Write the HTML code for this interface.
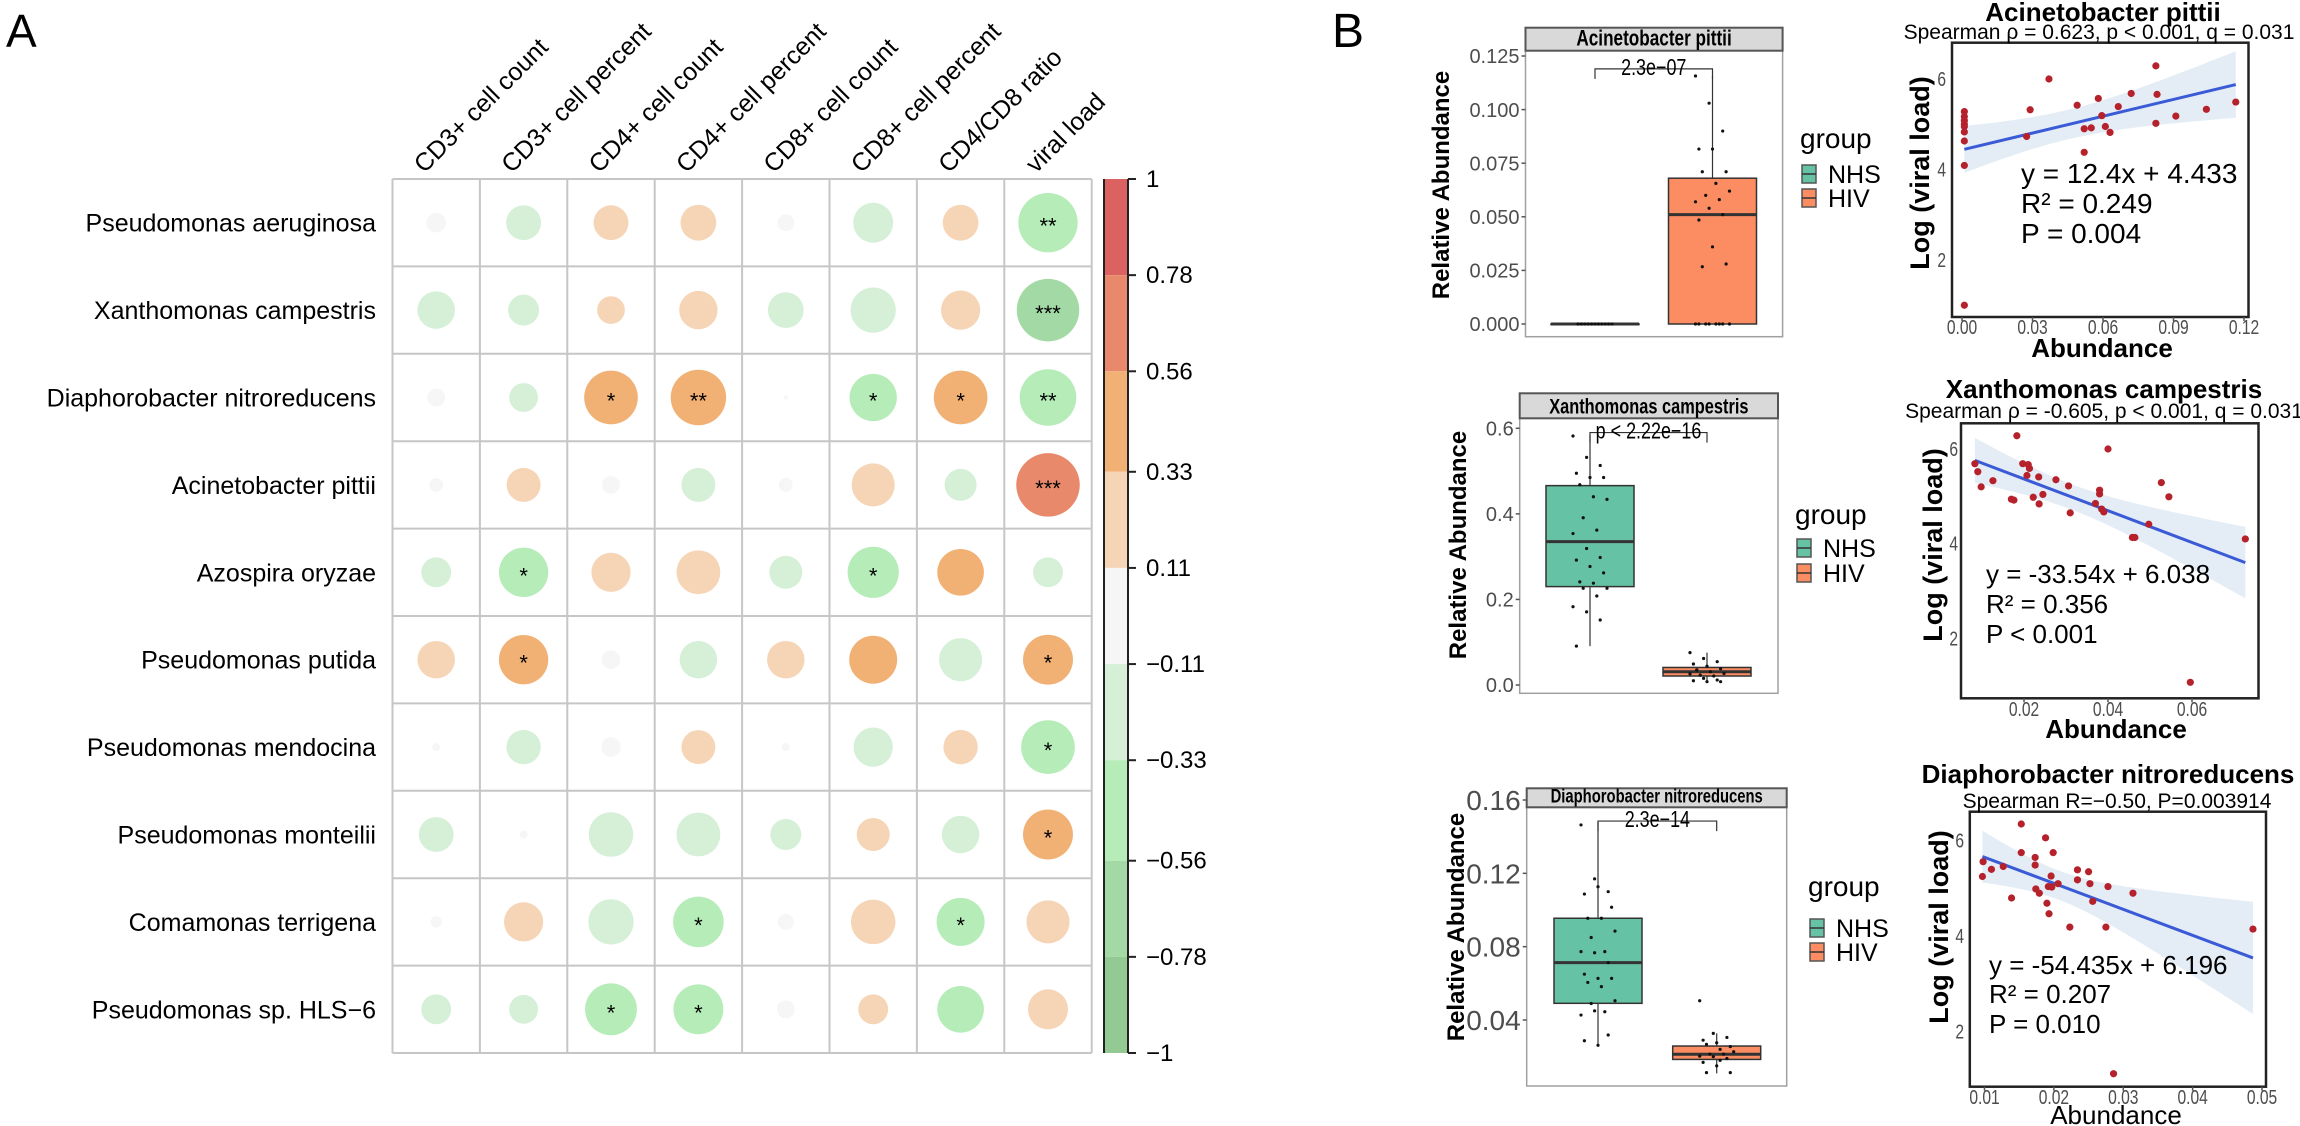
<!DOCTYPE html>
<html><head><meta charset="utf-8">
<style>
html,body{margin:0;padding:0;background:#fff;}
svg{display:block;font-family:"Liberation Sans",Arial,sans-serif;}
</style></head>
<body>
<svg id="fig" xmlns="http://www.w3.org/2000/svg" width="2300" height="1126" viewBox="0 0 2300 1126">
<rect x="0" y="0" width="2300" height="1126" fill="#fff"/>
<text x="6" y="47" font-size="46">A</text>
<text x="1332" y="47" font-size="48">B</text>
</svg>
<script>
// ---------- Panel A data ----------
const rowLabels = ["Pseudomonas aeruginosa","Xanthomonas campestris","Diaphorobacter nitroreducens","Acinetobacter pittii","Azospira oryzae","Pseudomonas putida","Pseudomonas mendocina","Pseudomonas monteilii","Comamonas terrigena","Pseudomonas sp. HLS\u22126"];
const colLabels = ["CD3+ cell count","CD3+ cell percent","CD4+ cell count","CD4+ cell percent","CD8+ cell count","CD8+ cell percent","CD4/CD8 ratio","viral load"];
const corrRow1 = [0.06,-0.19,0.19,0.2,0.045,-0.25,0.2,-0.55];
const corrRow2 = [-0.22,-0.15,0.12,0.23,-0.2,-0.32,0.24,-0.61];
const corrRow3 = [0.05,-0.13,0.45,0.48,0.003,-0.35,0.45,-0.5];
const corrRow4 = [0.03,0.18,0.05,-0.18,0.03,0.29,-0.16,0.63];
const corrRow5 = [-0.14,-0.38,0.24,0.3,-0.17,-0.41,0.34,-0.14];
const corrRow6 = [0.22,0.38,0.055,-0.22,0.22,0.36,-0.29,0.39];
const corrRow7 = [0.01,-0.185,0.06,0.18,0.01,-0.24,0.185,-0.45];
const corrRow8 = [-0.19,0.01,-0.31,-0.3,-0.15,0.17,-0.22,0.39];
const corrRow9 = [0.02,0.24,-0.32,-0.4,0.04,0.31,-0.36,0.29];
const corrRow10 = [-0.14,-0.13,-0.42,-0.39,0.05,0.14,-0.34,0.25];
const corrValues = [corrRow1,corrRow2,corrRow3,corrRow4,corrRow5,corrRow6,corrRow7,corrRow8,corrRow9,corrRow10];
const sigStars = [
 ["","","","","","","","**"],
 ["","","","","","","","***"],
 ["","","*","**","","*","*","**"],
 ["","","","","","","","***"],
 ["","*","","","","*","",""],
 ["","*","","","","","","*"],
 ["","","","","","","","*"],
 ["","","","","","","","*"],
 ["","","","*","","","*",""],
 ["","","*","*","","","",""]];
const cbTicks = [1,0.78,0.56,0.33,0.11,-0.11,-0.33,-0.56,-0.78,-1];
const cbTickLabels = ["1","0.78","0.56","0.33","0.11","\u22120.11","\u22120.33","\u22120.56","\u22120.78","\u22121"];
const cbColors = ["#dc6262","#e8896c","#f1b175","#f6d5b7","#f6f6f6","#d5f0d7","#b5ecb8","#a3d9a5","#93c993"];

// ---------- Panel B data ----------
const box1Ticks = [0,0.025,0.05,0.075,0.1,0.125];
const box1TickLabels = ["0.000","0.025","0.050","0.075","0.100","0.125"];
const box1NHSStats = [0,0,0,0,0];
const box1HIVStats = [0,0,0.051,0.068,0.1157];
const box1NHSPts = [0,0,0,0,0,0,0,0,0,0,0,0];
const box1HIVPts = [0.1157,0.103,0.09,0.0816,0.0816,0.071,0.071,0.0656,0.062,0.06,0.058,0.057,0.054,0.051,0.0485,0.036,0.028,0.0267,0,0,0,0,0,0,0,0];
const box2Ticks = [0,0.2,0.4,0.6];
const box2TickLabels = ["0.0","0.2","0.4","0.6"];
const box2NHSStats = [0.091,0.23,0.335,0.466,0.584];
const box2HIVStats = [0.0078,0.021,0.031,0.041,0.0756];
const box2NHSPts = [0.582,0.532,0.513,0.495,0.485,0.485,0.468,0.44,0.434,0.391,0.362,0.354,0.319,0.298,0.292,0.277,0.262,0.241,0.238,0.226,0.226,0.208,0.183,0.171,0.152,0.091];
const box2HIVPts = [0.0756,0.062,0.0545,0.049,0.044,0.038,0.035,0.031,0.027,0.023,0.021,0.026,0.0156,0.0117,0.01,0.0078,0.0078,0.035];
const box3Ticks = [0.04,0.08,0.12,0.16];
const box3TickLabels = ["0.04","0.08","0.12","0.16"];
const box3NHSStats = [0.0258,0.0491,0.0713,0.0955,0.148];
const box3HIVStats = [0.0109,0.0185,0.0213,0.0258,0.0327];
const box3NHSPts = [0.1464,0.117,0.11,0.1087,0.1127,0.1015,0.0955,0.0955,0.0885,0.085,0.0773,0.0773,0.0767,0.0713,0.065,0.0627,0.0627,0.0605,0.0582,0.0505,0.049,0.0445,0.0427,0.045,0.0318,0.0287,0.0262];
const box3HIVPts = [0.0505,0.0327,0.0305,0.029,0.0276,0.0255,0.0267,0.024,0.0227,0.0214,0.0214,0.0203,0.02,0.019,0.0169,0.015,0.0113,0.0113,0.018];

const sc1X = [0.001,0.001,0.001,0.001,0.001,0.001,0.001,0.001,0.001,0.0275,0.029,0.037,0.049,0.052,0.052,0.055,0.058,0.0595,0.061,0.063,0.0665,0.072,0.0825,0.083,0.0825,0.091,0.104,0.1165];
const sc1Y = [5.28,5.17,5.08,5.0,4.95,4.83,4.63,4.09,1.0,4.73,5.32,6.0,5.42,4.9,4.38,4.92,5.57,5.19,4.95,4.82,5.39,5.68,6.29,5.66,5.02,5.18,5.33,5.49];
const sc1Coef = [12.4,4.433];
const sc1XTicks = [0,0.03,0.06,0.09,0.12];
const sc1XTickLabels = ["0.00","0.03","0.06","0.09","0.12"];
const sc2X = [0.0083,0.009,0.0098,0.0126,0.017,0.0176,0.0183,0.0197,0.021,0.0213,0.0207,0.0222,0.0235,0.0236,0.0245,0.0276,0.0306,0.031,0.037,0.038,0.038,0.0385,0.039,0.04,0.0458,0.0464,0.0497,0.0527,0.0545,0.0596,0.0727];
const sc2Y = [5.69,5.52,5.2,5.33,4.94,4.92,6.28,5.69,5.67,5.59,5.44,4.98,5.41,4.84,5.04,5.35,5.22,4.65,4.85,5.13,5.05,4.73,4.67,6.0,4.13,4.13,4.41,5.29,4.99,1.07,4.1];
const sc2Coef = [-33.54,6.038];
const sc2XTicks = [0.02,0.04,0.06];
const sc2XTickLabels = ["0.02","0.04","0.06"];
const sc3X = [0.0098,0.0097,0.011,0.0127,0.0139,0.0153,0.0153,0.0173,0.0173,0.0174,0.0179,0.0188,0.019,0.0192,0.0193,0.0196,0.0197,0.0199,0.0206,0.0223,0.0234,0.0234,0.025,0.0252,0.0256,0.0275,0.0278,0.0286,0.0314,0.0487];
const sc3Y = [5.56,5.25,5.4,5.46,4.8,6.35,5.75,5.65,5.49,4.99,4.9,6.06,4.69,5.04,4.47,5.26,5.03,5.75,5.1,4.19,5.39,5.18,5.35,5.1,4.73,4.19,5.04,1.12,4.9,4.15];
const sc3Coef = [-54.435,6.196];
const sc3XTicks = [0.01,0.02,0.03,0.04,0.05];
const sc3XTickLabels = ["0.01","0.02","0.03","0.04","0.05"];
const scYTicks = [2,4,6];
const scYTickLabels = ["2","4","6"];

// ---------- helpers ----------
const NS = "http://www.w3.org/2000/svg";
const svg = document.getElementById("fig");
function mk(tag, attrs, parent) {
  const e = document.createElementNS(NS, tag);
  for (const k in attrs) e.setAttribute(k, attrs[k]);
  (parent || svg).appendChild(e);
  return e;
}
function ctext(str, x, y, size, anchor, weight, sx, parent, fill) {
  const e = mk("text", {x: 0, y: 0, "font-size": size, "text-anchor": anchor, "font-weight": weight, fill: fill || "#000",
    transform: "translate(" + x + "," + y + ") scale(" + sx + ",1)"}, parent);
  e.textContent = str;
  return e;
}
function lin(v0, p0, v1, p1) { return v => p0 + (v - v0) * (p1 - p0) / (v1 - v0); }

// ---------- Panel A ----------
const gA = mk("g", {});


const gx0 = 392.5, gy0 = 179, cell = 87.4;
const nR = rowLabels.length, nC = colLabels.length;
const colX = j => gx0 + cell * (j + 0.5);
const rowY = i => gy0 + cell * (i + 0.5);
const radius = v => 40 * Math.sqrt(Math.abs(v));
function colorOf(v) {
  for (let k = 0; k < cbColors.length; k++) { if (v >= cbTicks[k + 1]) return cbColors[k]; }
  return cbColors[cbColors.length - 1];
}
for (let i = 0; i <= nR; i++) {
  const l = mk("line", {x1: gx0, x2: gx0 + cell * nC, y1: gy0 + cell * i, y2: gy0 + cell * i, stroke: "#c6c6c6", "stroke-width": 2}, gA);
  
  
}
for (let j = 0; j <= nC; j++) {
  const l = mk("line", {x1: gx0 + cell * j, x2: gx0 + cell * j, y1: gy0, y2: gy0 + cell * nR, stroke: "#c6c6c6", "stroke-width": 2}, gA);
  
  
}
for (let i = 0; i < nR; i++) {
  const t = ctext(rowLabels[i], 376, rowY(i) + 9, 25, "end", "normal", 1, gA);
  
  
  for (let j = 0; j < nC; j++) {
    const v = corrValues[i][j];
    const c = mk("circle", {cx: colX(j), cy: rowY(i), r: radius(v), fill: colorOf(v)}, gA);
    
    
    if (sigStars[i][j]) {
      const s = ctext(sigStars[i][j], colX(j), rowY(i) + 11, 22, "middle", "normal", 1, gA);
      
      
    }
  }
}
for (let j = 0; j < nC; j++) {
  const t = mk("text", {x: 0, y: 0, "font-size": 25, transform: "translate(" + (colX(j) - 12) + ",174) rotate(-45)"}, gA);
  t.textContent = colLabels[j];
  
  
}
// colorbar
const cbY = lin(-1, gy0 + cell * nR, 1, gy0);
const gCB = mk("g", {});


for (let k = 0; k < cbColors.length; k++) {
  const r = mk("rect", {x: 1104, y: cbY(cbTicks[k]), width: 24, height: cbY(cbTicks[k + 1]) - cbY(cbTicks[k]), fill: cbColors[k]}, gCB);
  
  
}
const cbl = mk("path", {d: "M1104," + cbY(1) + "V" + cbY(-1) + "M1128," + cbY(1) + "V" + cbY(-1), stroke: "#222", "stroke-width": 2, fill: "none"}, gCB);


for (let k = 0; k < cbTicks.length; k++) {
  const tk = mk("line", {x1: 1128, x2: 1136, y1: cbY(cbTicks[k]), y2: cbY(cbTicks[k]), stroke: "#222", "stroke-width": 2}, gCB);
  
  
  const tl = ctext(cbTickLabels[k], 1146, cbY(cbTicks[k]) + 8, 24, "start", "normal", 1, gCB);
  
  
}

// ---------- Panel B: boxplots ----------
const SX = 0.78;
function drawBox(L, ticks, tickLabels, nhsStats, hivStats, nhsPts, hivPts, title, pLabel, bracketV) {
  const g = mk("g", {});
  
  
  const y = lin(L.v0, L.p0, L.v1, L.p1);
  const pr = mk("rect", {x: L.x0, y: L.ys, width: L.x1 - L.x0, height: L.yb - L.ys, fill: "#fff", stroke: "#a0a0a0", "stroke-width": 1.5}, g);
  
  
  const st = mk("rect", {x: L.x0, y: L.yt, width: L.x1 - L.x0, height: L.ys - L.yt, fill: "#d9d9d9", stroke: "#555", "stroke-width": 2}, g);
  
  
  const stt = ctext(title, (L.x0 + L.x1) / 2, L.ys - 5, L.stripFont, "middle", "bold", SX, g);
  
  
  for (let k = 0; k < ticks.length; k++) {
    const tk = mk("line", {x1: L.x0 - 4, x2: L.x0, y1: y(ticks[k]), y2: y(ticks[k]), stroke: "#555", "stroke-width": 1.5}, g);
    
    
    const tl = ctext(tickLabels[k], L.x0 - 6, y(ticks[k]) + L.tickFont * 0.36, L.tickFont, "end", "normal", 1, g, "#4d4d4d");
    
    
  }
  const groups = [[L.c1, nhsStats, nhsPts, "#66c2a5", "nhs"], [L.c2, hivStats, hivPts, "#fc8d62", "hiv"]];
  groups.forEach(([cx, s, pts, col, nm]) => {
    const w = mk("path", {d: "M" + cx + "," + y(s[0]) + "V" + y(s[1]) + "M" + cx + "," + y(s[3]) + "V" + y(s[4]), stroke: "#333", "stroke-width": 1.2}, g);
    
    
    const b = mk("rect", {x: cx - 44, y: y(s[3]), width: 88, height: Math.max(y(s[1]) - y(s[3]), 0.5), fill: col, stroke: "#333", "stroke-width": 1.5}, g);
    
    
    const md = mk("line", {x1: cx - 44, x2: cx + 44, y1: y(s[2]), y2: y(s[2]), stroke: "#333", "stroke-width": 3}, g);
    
    
    pts.forEach((v, i) => {
      const jx = ((i * 37) % 11 - 5) * 3.4;
      const p = mk("circle", {cx: cx + jx, cy: y(v), r: 1.6, fill: "#111"}, g);
      
      
    });
  });
  const br = mk("path", {d: "M" + L.c1 + "," + (y(bracketV) + 10) + "V" + y(bracketV) + "H" + L.c2 + "V" + (y(bracketV) + 10), stroke: "#333", "stroke-width": 1.2, fill: "none"}, g);
  
  
  const pl = ctext(pLabel, (L.c1 + L.c2) / 2, y(bracketV) + 6, 23, "middle", "normal", SX, g);
  
  
  const yt = mk("text", {x: 0, y: 0, "font-size": 24, "font-weight": "bold", "text-anchor": "middle", transform: "translate(" + L.ytx + "," + L.yty + ") rotate(-90)"}, g);
  yt.textContent = "Relative Abundance";
  
  
  // legend
  const lg = mk("g", {}, g);
  
  
  const gt = ctext("group", L.lx, L.lg, 28, "start", "normal", 1, lg);
  
  
  [["NHS", "#66c2a5", L.ln], ["HIV", "#fc8d62", L.lh]].forEach(([lab, col, yy]) => {
    const kr = mk("rect", {x: L.lx + 2, y: yy - 9, width: 14, height: 18, fill: col, stroke: "#555", "stroke-width": 1.5}, lg);
    
    
    const kl = mk("line", {x1: L.lx + 2, x2: L.lx + 16, y1: yy, y2: yy, stroke: "#333", "stroke-width": 1.5}, lg);
    
    
    const kt = ctext(lab, L.lx + 28, yy + 9, 25, "start", "normal", 1, lg);
    
    
  });
}
drawBox({x0: 1525.5, x1: 1782.6, yt: 27.7, ys: 50.7, yb: 336.7, v0: 0, p0: 324, v1: 0.125, p1: 56, c1: 1595, c2: 1712.5,
  stripFont: 22, tickFont: 20, ytx: 1449, yty: 185, lx: 1800, lg: 148, ln: 174, lh: 198},
  box1Ticks, box1TickLabels, box1NHSStats, box1HIVStats, box1NHSPts, box1HIVPts, "Acinetobacter pittii", "2.3e\u221207", 0.119);
drawBox({x0: 1519.7, x1: 1778, yt: 393.3, ys: 418.3, yb: 693.3, v0: 0, p0: 685, v1: 0.6, p1: 428.3, c1: 1590, c2: 1707,
  stripFont: 21, tickFont: 20, ytx: 1466, yty: 545, lx: 1795, lg: 524, ln: 548, lh: 573},
  box2Ticks, box2TickLabels, box2NHSStats, box2HIVStats, box2NHSPts, box2HIVPts, "Xanthomonas campestris", "p < 2.22e\u221216", 0.59);
drawBox({x0: 1526.7, x1: 1786.7, yt: 788.3, ys: 807.3, yb: 1086, v0: 0.16, p0: 800, v1: 0.04, p1: 1020, c1: 1598, c2: 1716.7,
  stripFont: 19, tickFont: 28, ytx: 1464, yty: 927, lx: 1808, lg: 896, ln: 928, lh: 952},
  box3Ticks, box3TickLabels, box3NHSStats, box3HIVStats, box3NHSPts, box3HIVPts, "Diaphorobacter nitroreducens", "2.3e\u221214", 0.1485);

// ---------- Panel B: scatter plots ----------
function drawScatter(L, xs, ys, coef, xTicks, xTickLabels, title, subtitle, ann) {
  const g = mk("g", {});
  
  
  const X = lin(L.xv0, L.xp0, L.xv1, L.xp1);
  const Y = lin(2, L.y2, 6, L.y6);
  const clip = mk("clipPath", {id: L.id}, g);
  mk("rect", {x: L.x0, y: L.y0, width: L.x1 - L.x0, height: L.y1 - L.y0}, clip);
  const n = xs.length;
  const mx = xs.reduce((a, b) => a + b, 0) / n;
  const sxx = xs.reduce((a, b) => a + (b - mx) * (b - mx), 0);
  const sse = xs.reduce((a, b, i) => a + Math.pow(ys[i] - (coef[0] * b + coef[1]), 2), 0);
  const se = Math.sqrt(sse / (n - 2));
  const xmin = Math.min(...xs), xmax = Math.max(...xs);
  const up = [], dn = [];
  for (let k = 0; k <= 40; k++) {
    const xv = xmin + (xmax - xmin) * k / 40;
    const h = 2.05 * se * Math.sqrt(1 / n + (xv - mx) * (xv - mx) / sxx);
    const yv = coef[0] * xv + coef[1];
    up.push(X(xv).toFixed(1) + "," + Y(yv + h).toFixed(1));
    dn.unshift(X(xv).toFixed(1) + "," + Y(yv - h).toFixed(1));
  }
  const band = mk("polygon", {points: up.concat(dn).join(" "), fill: "#dde9f4", opacity: 0.8, "clip-path": "url(#" + L.id + ")"}, g);
  
  
  const rl = mk("line", {x1: X(xmin), y1: Y(coef[0] * xmin + coef[1]), x2: X(xmax), y2: Y(coef[0] * xmax + coef[1]), stroke: "#3b5bd6", "stroke-width": 3}, g);
  
  
  xs.forEach((xv, i) => {
    const p = mk("circle", {cx: X(xv), cy: Y(ys[i]), r: 3.6, fill: "#b5222c"}, g);
    
    
  });
  const fr = mk("rect", {x: L.x0, y: L.y0, width: L.x1 - L.x0, height: L.y1 - L.y0, fill: "none", stroke: "#222", "stroke-width": 2.5}, g);
  
  
  xTicks.forEach((v, k) => {
    const tk = mk("line", {x1: X(v), x2: X(v), y1: L.y1, y2: L.y1 + 4, stroke: "#555", "stroke-width": 1.5}, g);
    
    
    const tl = ctext(xTickLabels[k], X(v), L.xtb, 20, "middle", "normal", SX, g, "#4d4d4d");
    
    
  });
  scYTicks.forEach((v, k) => {
    const tl = ctext(scYTickLabels[k], L.ytr, Y(v) + 7, 20, "end", "normal", SX, g, "#4d4d4d");
    
    
  });
  const tt = ctext(title, L.tcx, L.tb, L.titleFont, "middle", "bold", 1, g);
  
  
  const sub = ctext(subtitle, L.scx, L.sb, L.subFont, "middle", "normal", 1, g);
  
  
  ann.forEach((a, k) => {
    const at = ctext(a, L.ax, L.ab[k], L.annFont, "start", "normal", 1, g);
    
    
  });
  const xt = ctext("Abundance", L.xtcx, L.xttb, 26, "middle", L.xtw, 1, g);
  
  
  const yt = mk("text", {x: 0, y: 0, "font-size": 27, "font-weight": "bold", "text-anchor": "middle", transform: "translate(" + L.ytx + "," + L.yty + ") rotate(-90)"}, g);
  yt.textContent = "Log (viral load)";
  
  
}
drawScatter({id: "c1", x0: 1952, x1: 2248.5, y0: 42.7, y1: 317, xv0: 0, xp0: 1962, xv1: 0.12, xp1: 2244, y2: 260, y6: 79,
  xtb: 334, ytr: 1946, tcx: 2103, tb: 21, titleFont: 26, scx: 2099, sb: 39, subFont: 21, ax: 2021, ab: [183, 213, 243], annFont: 28,
  xtcx: 2102, xttb: 357, xtw: "bold", ytx: 1929, yty: 173},
  sc1X, sc1Y, sc1Coef, sc1XTicks, sc1XTickLabels, "Acinetobacter pittii", "Spearman \u03c1 = 0.623, p < 0.001, q = 0.031",
  ["y = 12.4x + 4.433", "R\u00b2 = 0.249", "P = 0.004"]);
drawScatter({id: "c2", x0: 1961, x1: 2258.5, y0: 423.3, y1: 698.3, xv0: 0.02, xp0: 2024, xv1: 0.06, xp1: 2192, y2: 638.3, y6: 449,
  xtb: 716, ytr: 1958, tcx: 2104, tb: 398, titleFont: 26, scx: 2104, sb: 418, subFont: 21, ax: 1986, ab: [583, 613, 643], annFont: 26,
  xtcx: 2116, xttb: 738, xtw: "bold", ytx: 1942, yty: 545},
  sc2X, sc2Y, sc2Coef, sc2XTicks, sc2XTickLabels, "Xanthomonas campestris", "Spearman \u03c1 = -0.605, p < 0.001, q = 0.031",
  ["y = -33.54x + 6.038", "R\u00b2 = 0.356", "P < 0.001"]);
drawScatter({id: "c3", x0: 1969.8, x1: 2266, y0: 811.7, y1: 1086.7, xv0: 0.01, xp0: 1984.5, xv1: 0.05, xp1: 2262, y2: 1031.7, y6: 840.7,
  xtb: 1104, ytr: 1964, tcx: 2108, tb: 783, titleFont: 26, scx: 2117, sb: 808, subFont: 21, ax: 1989, ab: [974, 1003, 1033], annFont: 26,
  xtcx: 2116, xttb: 1124, xtw: "normal", ytx: 1948, yty: 927},
  sc3X, sc3Y, sc3Coef, sc3XTicks, sc3XTickLabels, "Diaphorobacter nitroreducens", "Spearman R=\u22120.50, P=0.003914",
  ["y = -54.435x + 6.196", "R\u00b2 = 0.207", "P = 0.010"]);
</script>
</body></html>
